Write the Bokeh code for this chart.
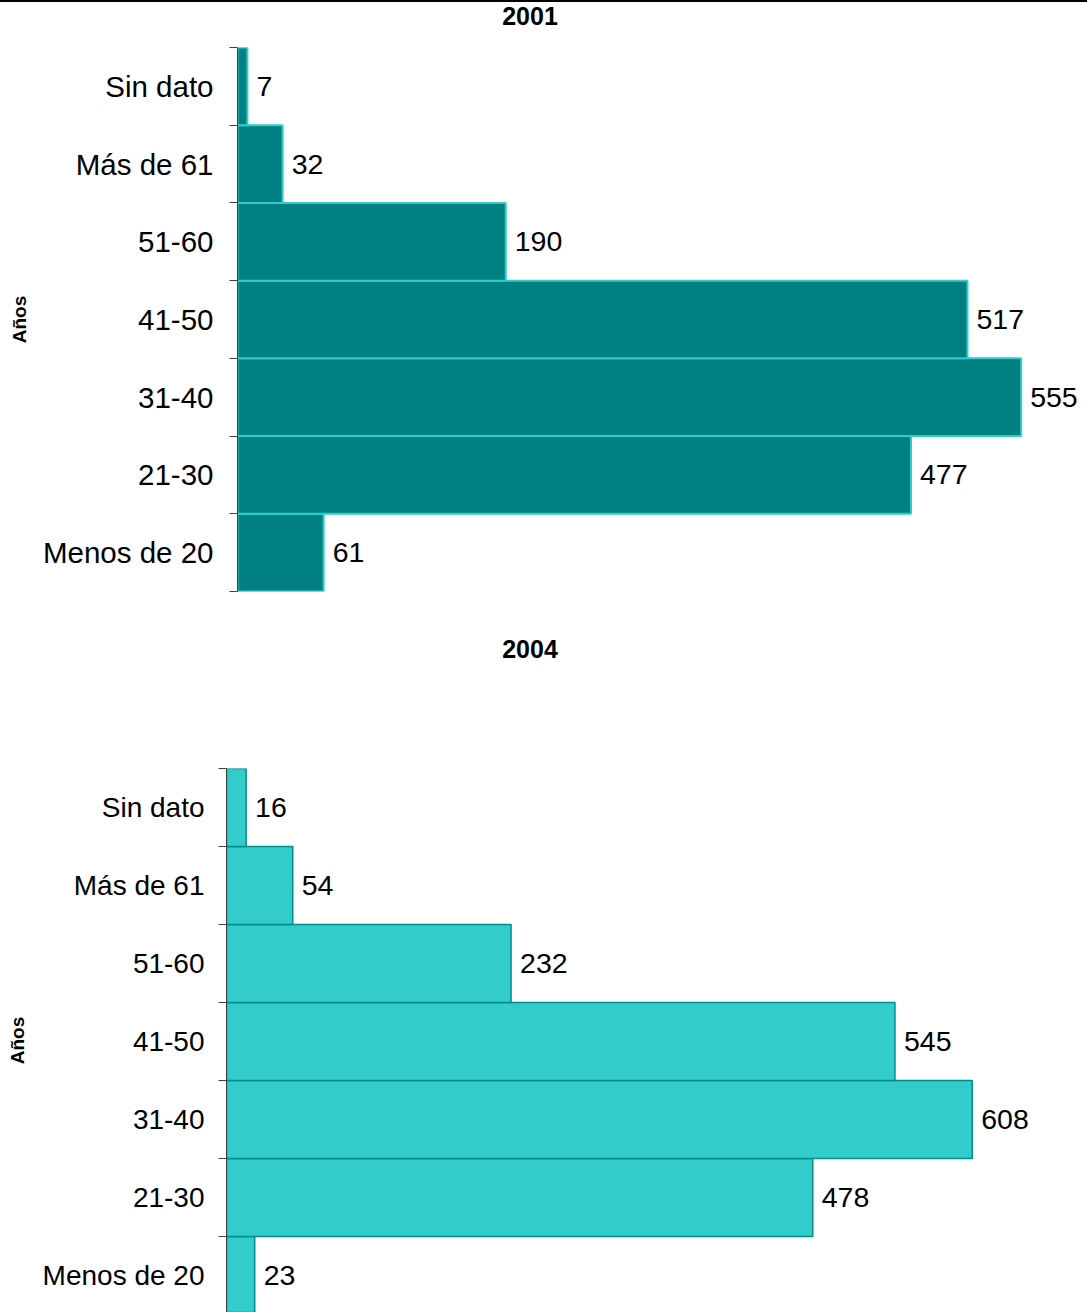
from bokeh.plotting import figure
from bokeh.models import Range1d, FixedTicker, Div, ColumnDataSource
from bokeh.layouts import column
from bokeh.embed import file_html
from bokeh.resources import INLINE
from bokeh.core.properties import value

categories = ["Menos de 20", "21-30", "31-40", "41-50", "51-60", "Más de 61", "Sin dato"]
values_2001 = [61, 477, 555, 517, 190, 32, 7]
values_2004 = [23, 478, 608, 545, 232, 54, 16]
titles = ["2001", "2004"]
axis_title = "Años"

FONT = "Liberation Sans"


def make_title(text, height):
    return Div(text=text, width=1060, height=height, margin=0,
               styles={"font-family": FONT, "font-size": "25px", "font-weight": "bold",
                       "text-align": "center", "line-height": "28px", "color": "black"})


def make_fig(vals, width, height, frame_left, x_end, y_start, min_top, min_bottom,
             fill, line, line_w, label_size, label_standoff, title_standoff):
    idx = list(range(len(categories)))
    src = ColumnDataSource(dict(y=idx, v=vals, lab=[str(v) for v in vals]))
    p = figure(width=width, height=height, output_backend="svg", toolbar_location=None,
               x_range=Range1d(0, x_end), y_range=Range1d(y_start, len(categories) - 0.5),
               min_border_left=frame_left, min_border_right=0,
               min_border_top=min_top, min_border_bottom=min_bottom, margin=0)
    p.frame_align = False
    p.outline_line_color = None
    p.xgrid.visible = False
    p.ygrid.visible = False
    p.xaxis.visible = False
    p.hbar(y="y", height=1.0, left=0, right="v", source=src,
           fill_color=fill, line_color=line, line_width=line_w)
    p.text(x="v", y="y", text="lab", source=src, x_offset=9,
           text_baseline="middle", text_align="left",
           text_font=value(FONT), text_font_size="28.5px", text_color="black")
    yax = p.yaxis[0]
    yax.ticker = FixedTicker(ticks=idx, minor_ticks=[i - 0.5 for i in range(len(categories) + 1)])
    yax.major_label_overrides = {i: c for i, c in zip(idx, categories)}
    yax.major_tick_out = 0
    yax.major_tick_in = 0
    yax.minor_tick_out = 8
    yax.minor_tick_in = 0
    yax.minor_tick_line_color = "#404040"
    yax.axis_line_color = "#404040"
    yax.major_label_text_font = FONT
    yax.major_label_text_font_size = label_size
    yax.major_label_text_color = "black"
    yax.major_label_standoff = label_standoff
    yax.axis_label = axis_title
    yax.axis_label_text_font = FONT
    yax.axis_label_text_font_size = "19px"
    yax.axis_label_text_font_style = "bold"
    yax.axis_label_text_color = "black"
    yax.axis_label_standoff = title_standoff
    return p


t1 = make_title(titles[0], 28)
p1 = make_fig(values_2001, 1087, 605, 237, 602, -0.5, 17, 44,
              "#008080", "#33CCCC", 2, "29.5px", 16, 10)
t2 = make_title(titles[1], 28)
p2 = make_fig(values_2004, 1087, 649, 226, 702, 6.5 - 544 / 78, 105, 0,
              "#33CCCC", "#008B8B", 1.5, "28px", 14, 12)

layout = column(t1, p1, t2, p2, spacing=0,
                styles={"border-top": "2px solid black"})

open("out.html", "w").write(file_html(layout, INLINE))
